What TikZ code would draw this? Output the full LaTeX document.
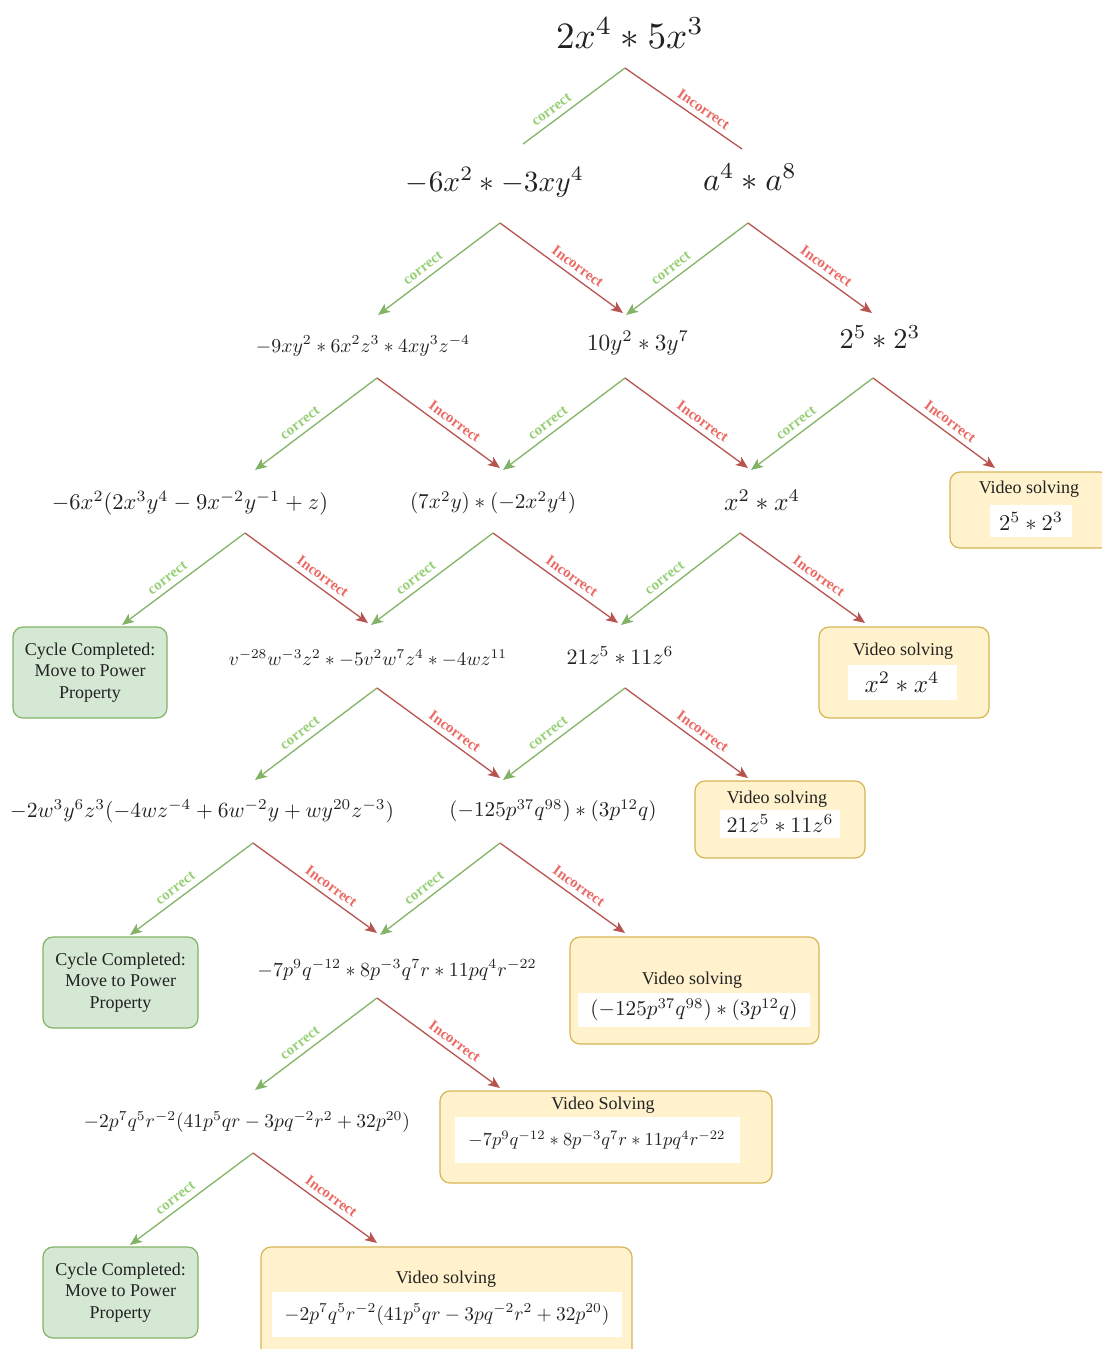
\documentclass[tikz,border=0pt]{standalone}
\usepackage[no-math]{fontspec}
\setmainfont{Liberation Serif}
\usepackage{amsmath}
\usepackage{graphicx}
\usetikzlibrary{arrows.meta}
\definecolor{gline}{HTML}{82B366}
\definecolor{rline}{HTML}{B85450}
\definecolor{glbl}{HTML}{97D077}
\definecolor{rlbl}{HTML}{EA6B66}
\definecolor{gfill}{HTML}{D5E8D4}
\definecolor{yfill}{HTML}{FFF2CC}
\definecolor{yline}{HTML}{D6B656}
\definecolor{ink}{HTML}{222222}
\newcommand{\mfit}[2]{\resizebox{#1pt}{!}{$#2$}}
\begin{document}
\begin{tikzpicture}[x=1pt,y=-1pt,
  gplain/.style={draw=gline, line width=1.3pt},
  rplain/.style={draw=rline, line width=1.3pt},
  garrow/.style={gplain, -{Stealth[length=12pt,width=10pt,inset=3pt]}},
  rarrow/.style={rplain, -{Stealth[length=12pt,width=10pt,inset=3pt]}},
  cl/.style={text=glbl, font=\bfseries\fontsize{15}{15}\selectfont, sloped, above=2pt, pos=0.58},
  il/.style={text=rlbl, font=\bfseries\fontsize{15}{15}\selectfont, sloped, above=2pt, pos=0.58},
  expr/.style={text=ink, inner sep=0pt},
  ttl/.style={text=ink, font=\fontsize{18}{20}\selectfont, inner sep=0pt},
  ybox/.style={draw=yline, fill=yfill, rounded corners=10pt, line width=1.2pt, inner sep=0pt},
  gbox/.style={draw=gline, fill=gfill, rounded corners=10pt, line width=1.2pt, inner sep=0pt,
    text=ink, font=\fontsize{18}{21.5}\selectfont, align=center},
  wbox/.style={fill=white, inner sep=0pt, text=ink}
]
\useasboundingbox (0,0) rectangle (1102,1349);

% ---------- level 1
\node[expr] (e1) at (630,33) {\mfit{148}{2x^4\ast 5x^3}};
\coordinate (p1) at (625,68);
\coordinate (q1g) at (523,144);
\coordinate (q1r) at (742,149);
\draw[gplain] (p1) -- node[cl,pos=0.66]{correct} (q1g);
\draw[rplain] (p1) -- node[il,pos=0.62]{Incorrect} (q1r);

% ---------- level 2
\node[expr] (e2) at (495,182) {\mfit{178}{-6x^2\ast -3xy^4}};
\node[expr] (e3) at (750,177) {\mfit{94}{a^4\ast a^8}};
\coordinate (p2) at (500,223);
\coordinate (p3) at (748,223);
\coordinate (q4g) at (378,315);
\coordinate (q5r) at (623,313);
\coordinate (q5g) at (626,315);
\coordinate (q6r) at (872,313);
\draw[garrow] (p2) -- node[cl]{correct} (q4g);
\draw[rarrow] (p2) -- node[il]{Incorrect} (q5r);
\draw[garrow] (p3) -- node[cl]{correct} (q5g);
\draw[rarrow] (p3) -- node[il]{Incorrect} (q6r);

% ---------- level 3
\node[expr] (e4) at (363,346) {\mfit{214}{-9xy^2\ast 6x^2z^3\ast 4xy^3z^{-4}}};
\node[expr] (e5) at (638,343) {\mfit{102}{10y^2\ast 3y^7}};
\node[expr] (e6) at (880,337) {\mfit{81}{2^5\ast 2^3}};
\coordinate (p4) at (377,378);
\coordinate (p5) at (625,378);
\coordinate (p6) at (873,378);
\coordinate (q7g) at (255,470);
\coordinate (q8r) at (500,468);
\coordinate (q8g) at (503,470);
\coordinate (q9r) at (748,468);
\coordinate (q9g) at (751,470);
\coordinate (qv1) at (995,468);
\draw[garrow] (p4) -- node[cl]{correct} (q7g);
\draw[rarrow] (p4) -- node[il]{Incorrect} (q8r);
\draw[garrow] (p5) -- node[cl]{correct} (q8g);
\draw[rarrow] (p5) -- node[il]{Incorrect} (q9r);
\draw[garrow] (p6) -- node[cl]{correct} (q9g);
\draw[rarrow] (p6) -- node[il]{Incorrect} (qv1);

% ---------- level 4
\node[expr] (e7) at (190,503) {\mfit{276}{-6x^2(2x^3y^4-9x^{-2}y^{-1}+z)}};
\node[expr] (e8) at (493,503) {\mfit{166}{(7x^2y)\ast(-2x^2y^4)}};
\node[expr] (e9) at (762,500) {\mfit{76}{x^2\ast x^4}};
\node[ybox, minimum width=160pt, minimum height=76pt] (v1) at (1030,510) {};
\node[ttl] (v1t) at (1029,489) {Video solving};
\node[wbox, minimum width=82pt, minimum height=32pt] (v1m) at (1031,521) {\mfit{64}{2^5\ast 2^3}};
\coordinate (p7) at (245,533);
\coordinate (p8) at (493,533);
\coordinate (p9) at (740,533);
\coordinate (qc1) at (122,625);
\coordinate (q10r) at (368,623);
\coordinate (q10g) at (371,625);
\coordinate (q11r) at (618,623);
\coordinate (q11g) at (621,625);
\coordinate (qv2) at (865,623);
\draw[garrow] (p7) -- node[cl]{correct} (qc1);
\draw[rarrow] (p7) -- node[il]{Incorrect} (q10r);
\draw[garrow] (p8) -- node[cl]{correct} (q10g);
\draw[rarrow] (p8) -- node[il]{Incorrect} (q11r);
\draw[garrow] (p9) -- node[cl]{correct} (q11g);
\draw[rarrow] (p9) -- node[il]{Incorrect} (qv2);

% ---------- level 5
\node[gbox, minimum width=154pt, minimum height=91pt] (c1) at (90,672.5) {Cycle Completed:\\Move to Power\\Property};
\node[expr] (e10) at (368,658) {\mfit{278}{v^{-28}w^{-3}z^2\ast -5v^2w^7z^4\ast -4wz^{11}}};
\node[expr] (e11) at (620,656) {\mfit{107}{21z^5\ast 11z^6}};
\node[ybox, minimum width=170pt, minimum height=91pt] (v2) at (904,672.5) {};
\node[ttl] (v2t) at (903,651) {Video solving};
\node[wbox, minimum width=109pt, minimum height=35pt] (v2m) at (902,682) {\mfit{75}{x^2\ast x^4}};
\coordinate (p10) at (377,688);
\coordinate (p11) at (625,688);
\coordinate (q12g) at (255,780);
\coordinate (q13r) at (500,778);
\coordinate (q13g) at (503,780);
\coordinate (qv3) at (748,778);
\draw[garrow] (p10) -- node[cl]{correct} (q12g);
\draw[rarrow] (p10) -- node[il]{Incorrect} (q13r);
\draw[garrow] (p11) -- node[cl]{correct} (q13g);
\draw[rarrow] (p11) -- node[il]{Incorrect} (qv3);

% ---------- level 6
\node[expr] (e12) at (202,811) {\mfit{384}{-2w^3y^6z^3(-4wz^{-4}+6w^{-2}y+wy^{20}z^{-3})}};
\node[expr] (e13) at (553,811) {\mfit{207}{(-125p^{37}q^{98})\ast(3p^{12}q)}};
\node[ybox, minimum width=170pt, minimum height=77pt] (v3) at (780,819.5) {};
\node[ttl] (v3t) at (777,799) {Video solving};
\node[wbox, minimum width=120pt, minimum height=28pt] (v3m) at (780,824) {\mfit{107}{21z^5\ast 11z^6}};
\coordinate (p12) at (253,843);
\coordinate (p13) at (500,843);
\coordinate (qc2) at (130,935);
\coordinate (q14r) at (377,933);
\coordinate (q14g) at (380,935);
\coordinate (qv4) at (625,933);
\draw[garrow] (p12) -- node[cl]{correct} (qc2);
\draw[rarrow] (p12) -- node[il]{Incorrect} (q14r);
\draw[garrow] (p13) -- node[cl]{correct} (q14g);
\draw[rarrow] (p13) -- node[il]{Incorrect} (qv4);

% ---------- level 7
\node[gbox, minimum width=155pt, minimum height=91pt] (c2) at (120.5,982.5) {Cycle Completed:\\Move to Power\\Property};
\node[expr] (e14) at (397,970) {\mfit{279}{-7p^9q^{-12}\ast 8p^{-3}q^7r\ast 11pq^4r^{-22}}};
\node[ybox, minimum width=249pt, minimum height=107pt] (v4) at (694.5,990.5) {};
\node[ttl] (v4t) at (692,980) {Video solving};
\node[wbox, minimum width=232pt, minimum height=34pt] (v4m) at (694,1010) {\mfit{207}{(-125p^{37}q^{98})\ast(3p^{12}q)}};
\coordinate (p14) at (377,998);
\coordinate (q15g) at (255,1090);
\coordinate (qv5) at (500,1088);
\draw[garrow] (p14) -- node[cl]{correct} (q15g);
\draw[rarrow] (p14) -- node[il]{Incorrect} (qv5);

% ---------- level 8
\node[expr] (e15) at (247,1122) {\mfit{326}{-2p^7q^5r^{-2}(41p^5qr-3pq^{-2}r^2+32p^{20})}};
\node[ybox, minimum width=332pt, minimum height=92pt] (v5) at (606,1137) {};
\node[ttl] (v5t) at (603,1105) {Video Solving};
\node[wbox, minimum width=285pt, minimum height=46pt] (v5m) at (597,1140) {\mfit{257}{-7p^9q^{-12}\ast 8p^{-3}q^7r\ast 11pq^4r^{-22}}};
\coordinate (p15) at (253,1153);
\coordinate (qc3) at (130,1245);
\coordinate (qv6) at (377,1243);
\draw[garrow] (p15) -- node[cl]{correct} (qc3);
\draw[rarrow] (p15) -- node[il]{Incorrect} (qv6);

% ---------- level 9
\node[gbox, minimum width=155pt, minimum height=91pt] (c3) at (120.5,1292.5) {Cycle Completed:\\Move to Power\\Property};
\node[ybox, minimum width=371pt, minimum height=113pt] (v6) at (446.5,1303.5) {};
\node[ttl] (v6t) at (446,1279) {Video solving};
\node[wbox, minimum width=350pt, minimum height=45pt] (v6m) at (447,1314.5) {\mfit{325}{-2p^7q^5r^{-2}(41p^5qr-3pq^{-2}r^2+32p^{20})}};
\end{tikzpicture}
\end{document}
